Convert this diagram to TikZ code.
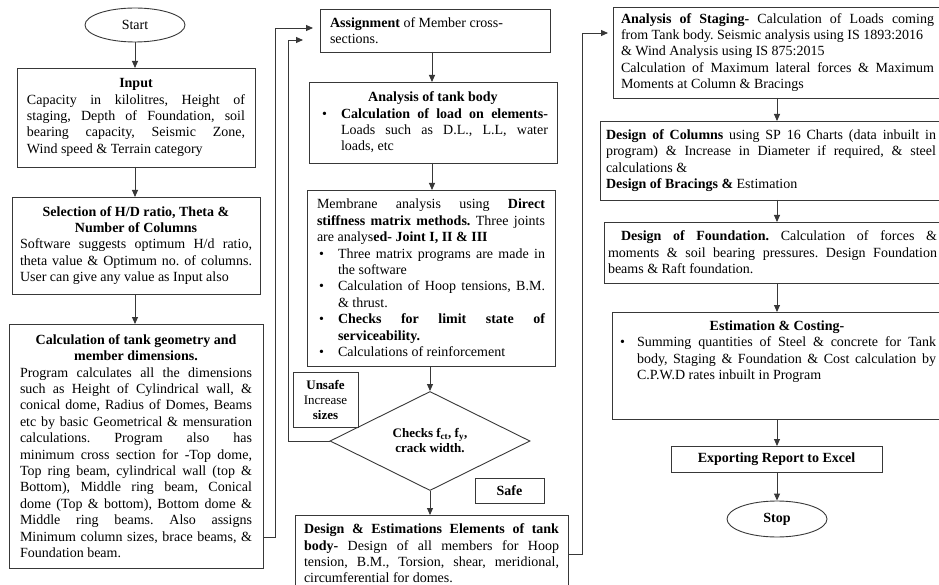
\documentclass[tikz,border=0pt]{standalone}
\usepackage{fontspec}
\setmainfont{Liberation Serif}
\usetikzlibrary{arrows.meta,shapes.geometric}
\definecolor{linecol}{gray}{0.22}
\frenchspacing
\newcommand\fsz{\fontsize{14}{16.4}\selectfont\frenchspacing\tolerance=9999\hyphenpenalty=10000\hbadness=10000\parindent=0pt\relax}
\newcommand\fsm{\fontsize{13}{15}\selectfont}
\newcommand\rbr{\hfil\break}
\newcommand\bitem[3]{\par\noindent\hangindent=#2\hangafter=1\hspace*{#1}\makebox[\dimexpr#2-#1\relax][l]{\textbullet}#3\par}
\tikzset{
  flowbox/.style={draw=linecol, line width=0.9pt, rectangle, anchor=north west, outer sep=0pt, inner ysep=0pt, font=\fsz, align=justify},
  oval/.style={draw=linecol, line width=0.9pt, ellipse, inner sep=0pt, font=\fsz},
  arr/.style={draw=linecol, line width=0.9pt, -{Triangle[length=7pt,width=6pt]}},
}
\begin{document}
\begin{tikzpicture}[x=1pt,y=-1pt]
\fill[white] (0,0) rectangle (939,585);
\useasboundingbox (0,0) rectangle (939,585);

% ---------- left column ----------
\node[oval, minimum width=100pt, minimum height=34pt] (start) at (135,25) {Start};

\node[flowbox, minimum width=238pt, minimum height=99pt, inner xsep=10pt, text width=218pt] (input) at (17,68)
{{\centering\textbf{Input}\par}
Capacity in kilolitres, Height of\linebreak staging, Depth of Foundation, soil\linebreak bearing capacity, Seismic Zone,\linebreak Wind speed \& Terrain category};

\node[flowbox, minimum width=248pt, minimum height=97pt, inner xsep=8pt, text width=232pt] (select) at (12,197)
{{\centering\textbf{Selection of H/D ratio, Theta \&}\par\textbf{Number of Columns}\par}
Software suggests optimum H/d ratio,\linebreak theta value \& Optimum no. of columns.\linebreak User can give any value as Input also};

\node[flowbox, minimum width=254pt, minimum height=244pt, inner xsep=11pt, text width=232pt] (calc) at (9,324)
{{\centering\textbf{Calculation of tank geometry and}\par\textbf{member dimensions.}\par}
Program calculates all the dimensions\linebreak such as Height of Cylindrical wall, \&\linebreak conical dome, Radius of Domes, Beams\linebreak etc by basic Geometrical \& mensuration\linebreak calculations. Program also has\linebreak minimum cross section for -Top dome,\linebreak Top ring beam, cylindrical wall (top \&\linebreak Bottom), Middle ring beam, Conical\linebreak dome (Top \& bottom), Bottom dome \&\linebreak Middle ring beams. Also assigns\linebreak Minimum column sizes, brace beams, \&\linebreak Foundation beam.};

% ---------- middle column ----------
\node[flowbox, minimum width=230pt, minimum height=43pt, inner xsep=10pt, text width=210pt] (assign) at (320,9)
{\textbf{Assignment} of Member cross-\rbr sections.};

\node[flowbox, minimum width=248pt, minimum height=81pt, inner xsep=9pt, text width=230pt] (tankbody) at (309,82)
{{\centering\textbf{Analysis of tank body}\par}
\bitem{4pt}{23pt}{\textbf{Calculation of load on elements-}\linebreak Loads such as D.L., L.L, water\linebreak loads, etc}};

\node[flowbox, minimum width=248pt, minimum height=176pt, inner xsep=10pt, text width=228pt] (membrane) at (307,190)
{Membrane analysis using \textbf{Direct}\linebreak \textbf{stiffness matrix methods.} Three joints\linebreak are analys\textbf{ed- Joint I, II \& III}\par
\bitem{2pt}{21pt}{Three matrix programs are made in\linebreak the software}
\bitem{2pt}{21pt}{Calculation of Hoop tensions, B.M.\linebreak \& thrust.}
\bitem{2pt}{21pt}{\textbf{Checks for limit state of\linebreak serviceability.}}
\bitem{2pt}{21pt}{Calculations of reinforcement}};

\node[diamond, draw=linecol, line width=0.9pt, minimum width=200pt, minimum height=97pt, inner sep=0pt, font=\fsm, align=center] (check) at (430,441)
{\textbf{Checks f\textsubscript{ct}, f\textsubscript{y},}\\\textbf{crack width.}};

\node[flowbox, font=\fsm, align=center, minimum width=65pt, minimum height=55pt, inner xsep=2pt] (unsafe) at (293,372)
{\textbf{Unsafe}\\Increase\\\textbf{sizes}};

\node[flowbox, align=center, minimum width=69pt, minimum height=25pt, inner xsep=2pt] (safe) at (475,478)
{\textbf{Safe}};

\node[flowbox, minimum width=273pt, minimum height=77pt, inner xsep=9pt, text width=255pt] (design) at (295,515)
{\textbf{Design \& Estimations Elements of tank}\linebreak \textbf{body-} Design of all members for Hoop\linebreak tension, B.M., Torsion, shear, meridional,\linebreak circumferential for domes.};

% ---------- right column ----------
\node[flowbox, minimum width=329pt, minimum height=91pt, inner xsep=8pt, text width=313pt] (staging) at (613,7)
{\textbf{Analysis of Staging-} Calculation of Loads coming\linebreak from Tank body. Seismic analysis using IS 1893:2016\rbr \& Wind Analysis using IS 875:2015\rbr Calculation of Maximum lateral forces \& Maximum\linebreak Moments at Column \& Bracings};

\node[flowbox, minimum width=342pt, minimum height=79pt, inner xsep=6pt, text width=330pt] (columns) at (600,121)
{\textbf{Design of Columns} using SP 16 Charts (data inbuilt in\linebreak program) \& Increase in Diameter if required, \& steel\linebreak calculations \&\rbr \textbf{Design of Bracings \&} Estimation};

\node[flowbox, minimum width=337pt, minimum height=61pt, inner xsep=4pt, text width=329pt] (foundation) at (604,222)
{\hspace*{13pt}\textbf{Design of Foundation.} Calculation of forces \&\linebreak moments \& soil bearing pressures. Design Foundation\linebreak beams \& Raft foundation.};

\node[flowbox, minimum width=330pt, minimum height=107pt, inner xsep=6pt, text width=318pt] (estimation) at (612,312)
{{\centering\textbf{Estimation \& Costing-}\par}
\bitem{2pt}{19pt}{Summing quantities of Steel \& concrete for Tank\linebreak body, Staging \& Foundation \& Cost calculation by\linebreak C.P.W.D rates inbuilt in Program}
\noindent\rule{0pt}{27pt}\par};

\node[flowbox, align=center, minimum width=211pt, minimum height=26pt, inner xsep=2pt] (export) at (671,446)
{\textbf{Exporting Report to Excel}};

\node[oval, minimum width=100pt, minimum height=36pt] (stop) at (777,519) {\textbf{Stop}};

% ---------- helper coordinates ----------
\coordinate (mcA) at (432,0);
\coordinate (rc) at (777,0);
\coordinate (lp1) at (275,0);
\coordinate (lp2) at (288,0);
\coordinate (lp3) at (582,0);
\coordinate (y28) at (0,28);
\coordinate (y40) at (0,40);
\coordinate (y33) at (0,33);
\coordinate (y537) at (0,537);
\coordinate (y554) at (0,554);

% ---------- connectors ----------
\draw[arr] (start.south) -- (input.north -| start.south);
\draw[arr] (input.south -| start.south) -- (select.north -| start.south);
\draw[arr] (select.south -| start.south) -- (calc.north -| start.south);

\draw[arr, shorten >=7pt] (calc.east |- y537) -| (lp1 |- y28) -- (assign.west |- y28);

\draw[arr] (assign.south -| mcA) -- (tankbody.north -| mcA);
\draw[arr] (tankbody.south -| mcA) -- (membrane.north -| mcA);
\draw[arr] (membrane.south -| check.north) -- (check.north);
\draw[arr] (check.south) -- (design.north -| check.south);

\draw[arr, shorten >=17pt] (check.west) -| (lp2 |- y40) -- (assign.west |- y40);

\draw[arr, shorten >=5pt] (design.east |- y554) -| (lp3 |- y33) -- (staging.west |- y33);

\draw[arr] (staging.south -| rc) -- (columns.north -| rc);
\draw[arr] (columns.south -| rc) -- (foundation.north -| rc);
\draw[arr] (foundation.south -| rc) -- (estimation.north -| rc);
\draw[arr] (estimation.south -| rc) -- (export.north -| rc);
\draw[arr] (export.south -| rc) -- (stop.north);
\end{tikzpicture}
\end{document}
